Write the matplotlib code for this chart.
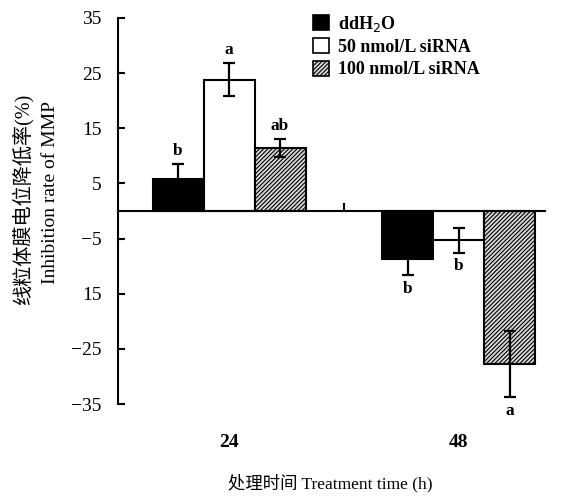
import numpy as np
import matplotlib
matplotlib.use("Agg")
import matplotlib.pyplot as plt
from matplotlib.patches import Patch

plt.rcParams['font.family'] = ['Liberation Serif', 'Noto Sans CJK SC']
plt.rcParams['hatch.linewidth'] = 0.8
plt.rcParams['axes.unicode_minus'] = True

# data
groups = ["24", "48"]
series = ["ddH$_2$O", "50 nmol/L siRNA", "100 nmol/L siRNA"]
means_ddh2o = [5.8, -8.7]
means_50 = [23.8, -5.3]
means_100 = [11.4, -27.8]
err_ddh2o = [2.7, 2.9]
err_50 = [3.0, 2.3]
err_100 = [1.6, 6.0]
letters_ddh2o = ["b", "b"]
letters_50 = ["a", "b"]
letters_100 = ["ab", "a"]
yticks = [35, 25, 15, 5, -5, -15, -25, -35]
ytick_labels = ["35", "25", "15", "5", "\u22125", "15", "\u221225", "\u221235"]

fig = plt.figure(figsize=(5.73, 4.97), dpi=100)
ax = fig.add_axes([0.206, 0.187, 0.745, 0.777])

x = np.arange(len(groups))
w = 0.222
styles = [dict(facecolor="black", hatch=None),
          dict(facecolor="white", hatch=None),
          dict(facecolor="#d8d8d8", hatch="////////")]
all_means = [means_ddh2o, means_50, means_100]
all_errs = [err_ddh2o, err_50, err_100]
all_letters = [letters_ddh2o, letters_50, letters_100]

handles = []
for i, (m, e, lt, st) in enumerate(zip(all_means, all_errs, all_letters, styles)):
    pos = x + (i - 1) * w
    ax.bar(pos, m, width=w, color=st["facecolor"], hatch=st["hatch"],
           edgecolor="black", linewidth=1.5, zorder=2)
    ax.errorbar(pos, m, yerr=e, fmt="none", ecolor="black", elinewidth=1.6,
                capsize=4, capthick=1.6, zorder=3)
    for p, v, ee, t in zip(pos, m, e, lt):
        if v >= 0:
            ax.annotate(t, (p, v + ee), xytext=(0, 4), textcoords="offset points",
                        ha="center", va="bottom", fontsize=12.5, fontweight="bold")
        else:
            ax.annotate(t, (p, v - ee), xytext=(0, -4), textcoords="offset points",
                        ha="center", va="top", fontsize=12.5, fontweight="bold")
    handles.append(Patch(facecolor=st["facecolor"], hatch=st["hatch"],
                         edgecolor="black", linewidth=1.2, label=series[i]))

ax.set_xlim(-0.483, 1.374)
ax.set_ylim(-35, 35)
ax.spines["top"].set_visible(False)
ax.spines["right"].set_visible(False)
ax.spines["bottom"].set_position(("data", 0))
ax.spines["bottom"].set_linewidth(1.5)
ax.spines["left"].set_linewidth(1.5)
ax.spines["left"].set_bounds(-35, 35)

ax.set_yticks(yticks)
ax.set_yticklabels(ytick_labels, fontsize=14)
ax.tick_params(axis="y", direction="in", length=5, width=1.5, pad=12)
ax.set_xticks([0.5])
ax.set_xticklabels([""])
ax.tick_params(axis="x", direction="in", length=6, width=1.5)

for xi, g in zip(x, groups):
    ax.text(xi, -42, g, ha="center", va="center", fontsize=14, fontweight="bold")

fig.text(0.576, 0.028, "处理时间 Treatment time (h)", ha="center", va="center",
         fontsize=12.5)
fig.text(0.040, 0.598, "线粒体膜电位降低率(%)", rotation=90, ha="center",
         va="center", fontsize=14.5)
fig.text(0.088, 0.612, "Inhibition rate of MMP", rotation=90, ha="center",
         va="center", fontsize=14)

fig.legend(handles=handles, loc="upper left", bbox_to_anchor=(0.518, 1.005),
           frameon=False, handlelength=0.9, handleheight=0.9, handletextpad=0.5,
           labelspacing=0.25, prop={"size": 13, "weight": "bold"})

fig.savefig("out.png", dpi=100)
